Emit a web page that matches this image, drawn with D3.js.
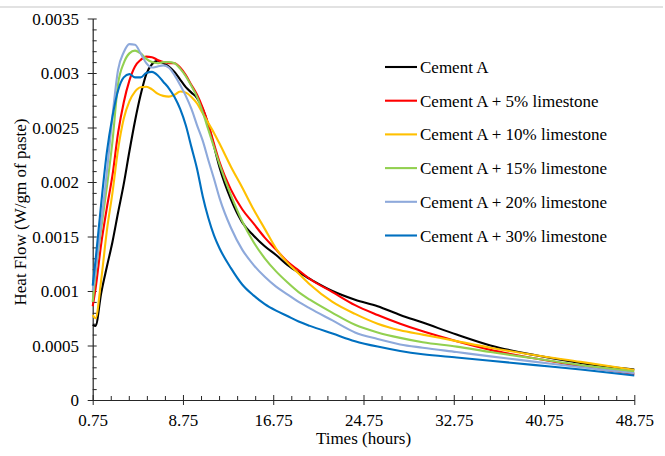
<!DOCTYPE html>
<html>
<head>
<meta charset="utf-8">
<script src="https://cdn.jsdelivr.net/npm/d3@7/dist/d3.min.js"></script>
<style>
  html, body { margin: 0; padding: 0; background: #ffffff; }
  svg { display: block; }
  text { font-family: "Liberation Serif", "Times New Roman", serif; fill: #000; }
</style>
</head>
<body>
<svg id="chart" width="665" height="456"></svg>
<script>
// ---- data ----
const hours = [0.75, 1, 1.5, 2, 2.5, 3, 3.5, 4, 4.5, 5, 5.5, 6, 6.5, 7, 7.5, 8, 8.5, 9, 9.5, 10,
  10.5, 11, 11.5, 12, 13, 14, 15, 16, 17, 18, 19, 20, 22, 24, 26, 28, 30, 33, 36, 40, 44, 48.75];

const cementA = [0.00069, 0.00068, 0.00098, 0.00122, 0.00145, 0.00172, 0.00198, 0.00228, 0.00256, 0.0028,
  0.00299, 0.00308, 0.003113, 0.00309, 0.00306, 0.00301, 0.00294, 0.00287, 0.00282, 0.00277,
  0.00267, 0.00252, 0.00233, 0.00213, 0.00184, 0.00163, 0.00151, 0.00141, 0.00133, 0.00124,
  0.00117, 0.00111, 0.001, 0.00092, 0.00086, 0.00078, 0.00071, 0.0006, 0.0005, 0.00041, 0.00034, 0.00028];

const lime5 = [0.00086, 0.00102, 0.00143, 0.00176, 0.00206, 0.00245, 0.00273, 0.00293, 0.00306, 0.00312,
  0.00315, 0.003145, 0.00312, 0.0031, 0.00309, 0.00309, 0.00305, 0.00298, 0.00289, 0.0028,
  0.00268, 0.00253, 0.00235, 0.00218, 0.00193, 0.00175, 0.00162, 0.00149, 0.00138, 0.00127,
  0.00119, 0.00111, 0.00099, 0.00087, 0.00078, 0.0007, 0.00063, 0.00054, 0.00046, 0.00038, 0.00031, 0.00024];

const lime10 = [0.00078, 0.00075, 0.0011, 0.00155, 0.0019, 0.0023, 0.00258, 0.00274, 0.00283, 0.00287,
  0.002874, 0.00285, 0.00281, 0.00279, 0.002783, 0.0028, 0.00283, 0.00282, 0.00278, 0.00272,
  0.00263, 0.00254, 0.00245, 0.00235, 0.00214, 0.00195, 0.00175, 0.00157, 0.00139, 0.00126,
  0.00116, 0.00106, 0.0009, 0.00079, 0.0007, 0.00064, 0.0006, 0.00054, 0.00048, 0.00041, 0.00035, 0.000275];

const lime15 = [0.0009, 0.00115, 0.00157, 0.00195, 0.00237, 0.0029, 0.00309, 0.00318, 0.003205, 0.00318,
  0.00313, 0.0031, 0.00309, 0.0031, 0.0031, 0.00309, 0.00304, 0.00297, 0.00288, 0.00278,
  0.00264, 0.00248, 0.00232, 0.00216, 0.00188, 0.00164, 0.00145, 0.0013, 0.00118, 0.00108,
  0.00099, 0.00092, 0.0008, 0.00069, 0.00062, 0.00057, 0.00053, 0.00049, 0.00044, 0.00038, 0.00032, 0.00026];

const lime20 = [0.001, 0.00118, 0.00162, 0.00208, 0.0026, 0.00303, 0.00319, 0.003265, 0.00326, 0.00318,
  0.00309, 0.00305, 0.00306, 0.00307, 0.00305, 0.00298, 0.00289, 0.00279, 0.00267, 0.00252,
  0.00238, 0.0022, 0.00203, 0.00185, 0.00158, 0.00138, 0.00124, 0.00113, 0.00104, 0.00097,
  0.0009, 0.00084, 0.00073, 0.00062, 0.00056, 0.00051, 0.00048, 0.00044, 0.0004, 0.00035, 0.0003, 0.000245];

const lime30 = [0.00105, 0.00128, 0.0018, 0.00227, 0.0026, 0.00284, 0.00296, 0.00299, 0.00296, 0.00296,
  0.003, 0.00301, 0.00298, 0.00292, 0.00286, 0.00278, 0.00267, 0.00252, 0.00232, 0.00212,
  0.00187, 0.00167, 0.00151, 0.00139, 0.00121, 0.00106, 0.00096, 0.00088, 0.00082, 0.00077,
  0.00072, 0.00068, 0.00061, 0.00054, 0.00049, 0.00045, 0.00042, 0.00039, 0.00036, 0.00032, 0.00028, 0.000225];

const seriesNames = ["Cement A", "Cement A + 5% limestone", "Cement A + 10% limestone",
  "Cement A + 15% limestone", "Cement A + 20% limestone", "Cement A + 30% limestone"];
const seriesColors = ["#000000", "#FF0000", "#FFC000", "#92D050", "#8EA9DB", "#0070C0"];
const seriesValues = [cementA, lime5, lime10, lime15, lime20, lime30];

const xTickValues = [0.75, 8.75, 16.75, 24.75, 32.75, 40.75, 48.75];
const xTickLabels = ["0.75", "8.75", "16.75", "24.75", "32.75", "40.75", "48.75"];
const yTickValues = [0, 0.0005, 0.001, 0.0015, 0.002, 0.0025, 0.003, 0.0035];
const yTickLabels = ["0", "0.0005", "0.001", "0.0015", "0.002", "0.0025", "0.003", "0.0035"];
const xTitle = "Times (hours)";
const yTitle = "Heat Flow (W/gm of paste)";

// ---- layout ----
const svg = d3.select("#chart");
const plot = { left: 92.7, right: 634.3, top: 18.5, bottom: 400 };
const x = d3.scaleLinear().domain([0.75, 48.75]).range([plot.left, plot.right]);
const y = d3.scaleLinear().domain([0, 0.0035]).range([plot.bottom, plot.top]);
const axisColor = "#262626";
const fontSize = 17;

// top border line of the original figure frame
svg.append("line").attr("x1", 0).attr("x2", 663).attr("y1", 7).attr("y2", 7)
  .attr("stroke", "#d9d9d9").attr("stroke-width", 1.5);

// minor ticks
const xMinor = d3.range(0, 31).map(i => 0.75 + i * 1.6).filter(v => !xTickValues.some(t => Math.abs(t - v) < 1e-6));
const yMinor = d3.range(0, 36).map(i => i * 0.0001).filter(v => !yTickValues.some(t => Math.abs(t - v) < 1e-9));

svg.append("g").attr("transform", `translate(0,${plot.bottom})`)
  .call(d3.axisBottom(x).tickValues(xMinor).tickSizeInner(-4).tickSizeOuter(0).tickFormat(""))
  .call(g => g.select(".domain").remove())
  .call(g => g.selectAll("line").attr("stroke", axisColor));
svg.append("g").attr("transform", `translate(${plot.left},0)`)
  .call(d3.axisLeft(y).tickValues(yMinor).tickSizeInner(-4).tickSizeOuter(0).tickFormat(""))
  .call(g => g.select(".domain").remove())
  .call(g => g.selectAll("line").attr("stroke", axisColor));

// major x axis
const xAxis = svg.append("g").attr("transform", `translate(0,${plot.bottom})`)
  .call(d3.axisBottom(x).tickValues(xTickValues).tickSizeInner(5).tickSizeOuter(0)
    .tickFormat((d, i) => xTickLabels[i]).tickPadding(10));
xAxis.select(".domain").attr("stroke", axisColor).attr("stroke-width", 1.2);
xAxis.selectAll(".tick line").attr("y1", -5).attr("y2", 5).attr("stroke", axisColor);
xAxis.selectAll(".tick text").attr("font-family", "Liberation Serif").attr("font-size", fontSize)
  .attr("fill", "#000").attr("dy", null).attr("y", 25.5);

// major y axis
const yAxis = svg.append("g").attr("transform", `translate(${plot.left},0)`)
  .call(d3.axisLeft(y).tickValues(yTickValues).tickSizeInner(5).tickSizeOuter(0)
    .tickFormat((d, i) => yTickLabels[i]).tickPadding(8.7));
yAxis.select(".domain").attr("stroke", axisColor).attr("stroke-width", 1.2);
yAxis.selectAll(".tick line").attr("x1", 4).attr("x2", -5).attr("stroke", axisColor);
yAxis.selectAll(".tick text").attr("font-family", "Liberation Serif").attr("font-size", fontSize)
  .attr("fill", "#000").attr("x", -13.7).attr("dy", "0.33em");

// axis titles
svg.append("text").attr("x", (plot.left + plot.right) / 2).attr("y", 444)
  .attr("text-anchor", "middle").attr("font-size", fontSize).text(xTitle);
svg.append("text").attr("transform", "translate(26,212) rotate(-90)")
  .attr("text-anchor", "middle").attr("font-size", fontSize).text(yTitle);

// lines
const line = d3.line().x((d, i) => x(hours[i])).y(d => y(d)).curve(d3.curveMonotoneX);
svg.append("g").selectAll("path").data(seriesValues).join("path")
  .attr("d", d => line(d))
  .attr("fill", "none")
  .attr("stroke", (d, i) => seriesColors[i])
  .attr("stroke-width", 2.1)
  .attr("stroke-linejoin", "round");

// legend
const legend = svg.append("g");
seriesNames.forEach((name, i) => {
  const ly = 67 + i * 33.7;
  legend.append("line").attr("x1", 385).attr("x2", 417).attr("y1", ly).attr("y2", ly)
    .attr("stroke", seriesColors[i]).attr("stroke-width", 2.1);
  legend.append("text").attr("x", 420).attr("y", ly + 6).attr("font-size", fontSize).text(name);
});
</script>
</body>
</html>
